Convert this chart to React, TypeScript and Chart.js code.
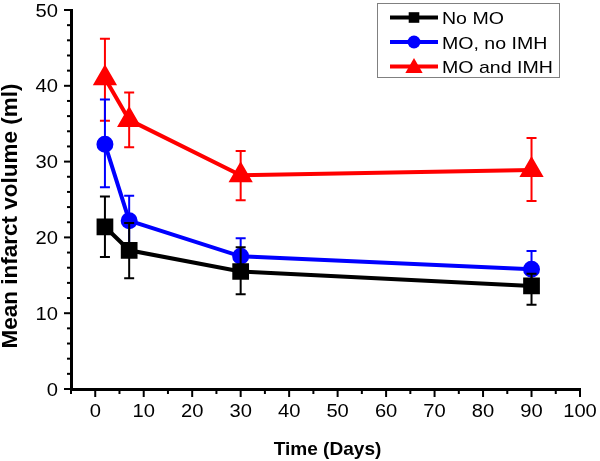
import React, { useEffect, useRef } from 'react';
import { Chart, registerables } from 'chart.js';

Chart.register(...registerables);

// ---- data ----
const days = [2, 7, 30, 90];
const seriesNames = ['No MO', 'MO, no IMH', 'MO and IMH'];
const seriesColors = ['#000000', '#0000ff', '#ff0000'];

const noMO = [21.4, 18.3, 15.5, 13.6];
const noMOLow = [17.4, 14.6, 12.5, 11.1];
const noMOHigh = [25.4, 21.9, 18.7, 15.2];

const moNoIMH = [32.3, 22.2, 17.5, 15.8];
const moNoIMHLow = [26.6, 18.8, 14.8, 13.3];
const moNoIMHHigh = [38.2, 25.5, 19.9, 18.2];

const moIMH = [41.0, 35.5, 28.2, 28.9];
const moIMHLow = [35.4, 31.9, 24.9, 24.8];
const moIMHHigh = [46.2, 39.1, 31.4, 33.1];

const xTickLabels = [0, 10, 20, 30, 40, 50, 60, 70, 80, 90, 100];
const yTickLabels = [0, 10, 20, 30, 40, 50];

const xTitle = 'Time (Days)';
const yTitle = 'Mean infarct volume (ml)';

const SANS = '"Liberation Sans", Arial, sans-serif';

function stretchedText(
  ctx: CanvasRenderingContext2D,
  text: string,
  x: number,
  y: number,
  align: CanvasTextAlign,
  sx: number,
  font: string
) {
  ctx.save();
  ctx.translate(x, y);
  ctx.scale(sx, 1);
  ctx.font = font;
  ctx.fillStyle = '#000';
  ctx.textAlign = align;
  ctx.textBaseline = 'alphabetic';
  ctx.fillText(text, 0, 0);
  ctx.restore();
}

function drawMarker(ctx: CanvasRenderingContext2D, style: string, x: number, y: number, r: number, color: string) {
  ctx.save();
  ctx.fillStyle = color;
  ctx.beginPath();
  if (style === 'rect') {
    const s = r * Math.SQRT1_2;
    ctx.rect(x - s, y - s, 2 * s, 2 * s);
  } else if (style === 'triangle') {
    let rad = 0;
    ctx.moveTo(x + Math.sin(rad) * r, y - Math.cos(rad) * r);
    rad += (2 * Math.PI) / 3;
    ctx.lineTo(x + Math.sin(rad) * r, y - Math.cos(rad) * r);
    rad += (2 * Math.PI) / 3;
    ctx.lineTo(x + Math.sin(rad) * r, y - Math.cos(rad) * r);
    ctx.closePath();
  } else {
    ctx.arc(x, y, r, 0, Math.PI * 2);
  }
  ctx.fill();
  ctx.restore();
}

const errorBarPlugin = {
  id: 'errorBars',
  afterDatasetDraw(chart: any, args: any) {
    const ds = chart.data.datasets[args.index];
    const { ctx } = chart;
    const xs = chart.scales.x;
    const ys = chart.scales.y;
    ctx.save();
    ctx.strokeStyle = ds.borderColor;
    ctx.lineWidth = 2;
    ds.data.forEach((p: any, j: number) => {
      const px = xs.getPixelForValue(p.x);
      const pl = ys.getPixelForValue(ds.errLow[j]);
      const ph = ys.getPixelForValue(ds.errHigh[j]);
      ctx.beginPath();
      ctx.moveTo(px, pl);
      ctx.lineTo(px, ph);
      ctx.moveTo(px - 5, pl);
      ctx.lineTo(px + 5, pl);
      ctx.moveTo(px - 5, ph);
      ctx.lineTo(px + 5, ph);
      ctx.stroke();
    });
    ctx.restore();
  },
};

const axisDecorPlugin = {
  id: 'axisDecor',
  afterDraw(chart: any) {
    const { ctx, chartArea } = chart;
    const xs = chart.scales.x;
    const ys = chart.scales.y;
    ctx.save();
    ctx.strokeStyle = '#000';
    ctx.lineWidth = 2;
    const tickFont = `18px ${SANS}`;
    xs.ticks.forEach((t: any) => {
      const px = xs.getPixelForValue(t.value);
      const major = xTickLabels.includes(t.value);
      const len = major ? 8 : 5;
      ctx.beginPath();
      ctx.moveTo(px, chartArea.bottom);
      ctx.lineTo(px, chartArea.bottom + len);
      ctx.stroke();
      if (major) stretchedText(ctx, String(t.value), px, chartArea.bottom + 28, 'center', 1.12, tickFont);
    });
    ys.ticks.forEach((t: any) => {
      const py = ys.getPixelForValue(t.value);
      const major = yTickLabels.includes(t.value);
      const len = major ? 7 : 4;
      ctx.beginPath();
      ctx.moveTo(chartArea.left - len, py);
      ctx.lineTo(chartArea.left, py);
      ctx.stroke();
      if (major) stretchedText(ctx, String(t.value), chartArea.left - 13, py + 6.5, 'right', 1.12, tickFont);
    });
    // axis titles
    stretchedText(ctx, xTitle, (chartArea.left + chartArea.right) / 2 + 2, 455, 'center', 1.03, `bold 18.5px ${SANS}`);
    ctx.translate(11, 216);
    ctx.rotate(-Math.PI / 2);
    ctx.fillStyle = '#000';
    ctx.font = `bold 22.5px ${SANS}`;
    ctx.textAlign = 'center';
    ctx.textBaseline = 'middle';
    ctx.fillText(yTitle, 0, 0);
    ctx.restore();
  },
};

const legendPlugin = {
  id: 'customLegend',
  afterDraw(chart: any) {
    const { ctx } = chart;
    ctx.save();
    ctx.fillStyle = '#ffffff';
    ctx.fillRect(377.5, 3.5, 182, 74);
    ctx.strokeStyle = '#808080';
    ctx.lineWidth = 1;
    ctx.strokeRect(377.5, 3.5, 182, 74);
    const sizes = [7.5, 6.5, 10];
    chart.data.datasets.forEach((ds: any, i: number) => {
      const cy = 17.5 + i * 24.5;
      ctx.strokeStyle = ds.borderColor;
      ctx.lineWidth = 4;
      ctx.beginPath();
      ctx.moveTo(390, cy);
      ctx.lineTo(438, cy);
      ctx.stroke();
      drawMarker(ctx, ds.pointStyle, 414, ds.pointStyle === 'triangle' ? cy + 1.5 : cy, sizes[i], ds.borderColor);
      stretchedText(ctx, ds.label, 442, cy + 6.5, 'left', 1.15, `17px ${SANS}`);
    });
    ctx.restore();
  },
};

export default function App() {
  const canvasRef = useRef<HTMLCanvasElement | null>(null);

  useEffect(() => {
    const canvas = canvasRef.current;
    if (!canvas) return;
    const mk = (vals: number[]) => days.map((d, i) => ({ x: d, y: vals[i] }));
    const chart = new Chart(canvas, {
      type: 'line',
      data: {
        datasets: [
          {
            label: seriesNames[0],
            data: mk(noMO),
            errLow: noMOLow,
            errHigh: noMOHigh,
            borderColor: seriesColors[0],
            backgroundColor: seriesColors[0],
            pointBackgroundColor: seriesColors[0],
            pointStyle: 'rect',
            pointRadius: 9,
            borderWidth: 4,
          },
          {
            label: seriesNames[1],
            data: mk(moNoIMH),
            errLow: moNoIMHLow,
            errHigh: moNoIMHHigh,
            borderColor: seriesColors[1],
            backgroundColor: seriesColors[1],
            pointBackgroundColor: seriesColors[1],
            pointStyle: 'circle',
            pointRadius: 6.5,
            borderWidth: 4,
          },
          {
            label: seriesNames[2],
            data: mk(moIMH),
            errLow: moIMHLow,
            errHigh: moIMHHigh,
            borderColor: seriesColors[2],
            backgroundColor: seriesColors[2],
            pointBackgroundColor: seriesColors[2],
            pointStyle: 'triangle',
            pointRadius: 10,
            borderWidth: 4,
          },
        ] as any,
      },
      options: {
        animation: false,
        responsive: false,
        devicePixelRatio: 1,
        layout: { autoPadding: false, padding: { top: 10, right: 20, left: 0, bottom: 0 } },
        plugins: { legend: { display: false }, tooltip: { enabled: false } },
        elements: { line: { tension: 0 }, point: { borderWidth: 1 } },
        scales: {
          x: {
            type: 'linear',
            min: -5,
            max: 100,
            afterFit: (s: any) => {
              s.height = 72;
            },
            ticks: { stepSize: 5, autoSkip: false, display: false },
            grid: { display: false, drawTicks: false },
            border: { display: true, color: '#000', width: 3 },
            title: { display: false },
          },
          y: {
            type: 'linear',
            min: 0,
            max: 50,
            afterFit: (s: any) => {
              s.width = 71;
            },
            ticks: { stepSize: 2, autoSkip: false, display: false },
            grid: { display: false, drawTicks: false },
            border: { display: true, color: '#000', width: 3 },
            title: { display: false },
          },
        },
      } as any,
      plugins: [errorBarPlugin, axisDecorPlugin, legendPlugin],
    });
    return () => chart.destroy();
  }, []);

  return (
    <div style={{ position: 'fixed', left: 0, top: 0, width: 600, height: 461, background: '#fff' }}>
      <canvas ref={canvasRef} width={600} height={461} />
    </div>
  );
}
